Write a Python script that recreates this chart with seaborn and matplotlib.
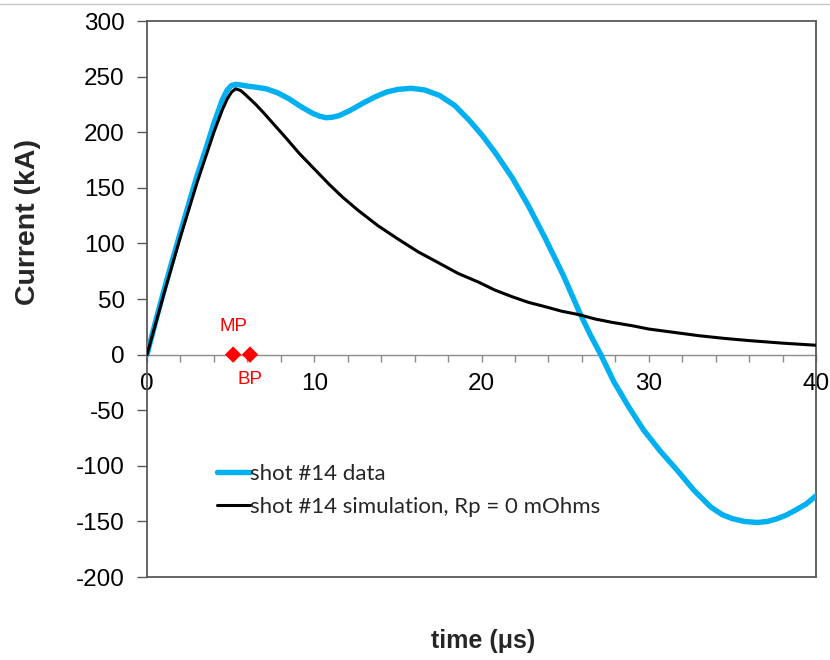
import matplotlib
matplotlib.use("Agg")
import matplotlib.pyplot as plt
import matplotlib.lines as mlines
from matplotlib.ticker import MultipleLocator, FuncFormatter
import seaborn as sns
import pandas as pd

# ---- data ----
data_t = [0, 0.5, 1, 1.5, 2, 2.56, 3, 3.56, 4, 4.5, 4.8, 5.05, 5.3, 5.6, 6.0,
          6.5, 7.13, 7.8, 8.5, 9.2, 9.9, 10.3, 10.7, 11.1, 11.5, 12.2, 12.9,
          13.6, 14.3, 15.0, 15.8, 16.6, 17.5, 18.4, 19.25, 20.05, 20.85, 21.84,
          22.8, 23.83, 24.9, 25.89, 26.5, 27.13, 27.9, 28.8, 29.7, 30.7, 31.7,
          32.7, 33.7, 34.4, 35.0, 35.7, 36.5, 37.1, 37.6, 38.2, 38.7, 39.4, 40.0]
data_i = [0, 29, 57, 84, 110, 139, 161, 187, 208, 229, 238, 242, 243, 242.5,
          241.5, 240.5, 239, 235.5, 230, 223, 217, 214.5, 213, 213.5, 215, 220,
          226, 231.5, 236, 238.5, 239.5, 238, 233, 224, 211, 197, 181, 159,
          134, 104, 71, 37, 18, 0, -24, -47, -68, -87, -104,
          -122, -137, -144, -147.5, -150, -151, -150, -148, -144.5, -140.5,
          -134.5, -127]

sim_t = [0, 1, 2, 3, 4, 4.5, 4.8, 5.05, 5.3, 5.6, 5.94, 6.5, 7.0, 7.5, 8.3,
         9.1, 10.0, 10.9, 11.7, 12.6, 13.8, 15.0, 16.2, 17.5, 18.6, 19.85,
         20.8, 21.84, 22.8, 23.83, 24.8, 25.8, 26.8, 27.8, 29.0, 30.0, 31.5,
         33.0, 34.5, 36.0, 38.0, 40.0]
sim_i = [0, 54, 106, 155, 200, 220, 230, 236, 239, 237.5, 233, 225, 217,
         208.5, 195, 181, 167, 153, 141.5, 130, 116, 104, 92.5, 82, 73, 65,
         58, 52, 47, 43, 39, 36, 32, 29, 26, 23, 20, 17, 14.6, 12.6, 10.3, 8.4]

marker_t = [5.15, 6.16]
marker_i = [0, 0]
marker_names = ["MP", "BP"]

data_label = "shot #14 data"
sim_label = "shot #14 simulation, Rp = 0 mOhms"
x_label = "time (\u03bcs)"
y_label = "Current (kA)"

# ---- styling ----
sns.set_theme(style="white")
plt.rcParams["font.family"] = ["Liberation Sans", "DejaVu Sans"]
plt.rcParams["axes.unicode_minus"] = False
plt.rcParams["lines.solid_joinstyle"] = "round"
plt.rcParams["lines.solid_capstyle"] = "round"

W, H = 830, 660
fig = plt.figure(figsize=(W / 100, H / 100), dpi=100)
ax = fig.add_axes([147 / W, 1 - 577 / H, (816 - 147) / W, (577 - 21) / H])

blue = "#00B0F0"
frame_col = "#595959"

df_data = pd.DataFrame({"t": data_t, "I": data_i})
df_sim = pd.DataFrame({"t": sim_t, "I": sim_i})
df_mk = pd.DataFrame({"t": marker_t, "I": marker_i, "name": marker_names})

sns.lineplot(data=df_data, x="t", y="I", ax=ax, color=blue, lw=3.9,
             sort=False, label=data_label, zorder=3)
sns.lineplot(data=df_sim, x="t", y="I", ax=ax, color="black", lw=2.2,
             sort=False, label=sim_label, zorder=4)
sns.scatterplot(data=df_mk, x="t", y="I", ax=ax, color="#FF0000", marker="D",
                s=70, edgecolor="none", zorder=5, legend=False)

ax.annotate(marker_names[0], (marker_t[0], marker_i[0]), xytext=(0, 20),
            textcoords="offset points", ha="center", va="center",
            color="#FF0000", fontsize=13.5)
ax.annotate(marker_names[1], (marker_t[1], marker_i[1]), xytext=(0, -18),
            textcoords="offset points", ha="center", va="center",
            color="#FF0000", fontsize=13.5)

ax.set_xlim(0, 40)
ax.set_ylim(-200, 300)

# axis at zero
ax.spines["bottom"].set_position(("data", 0))
ax.spines["bottom"].set_color("#8c8c8c")
ax.spines["bottom"].set_linewidth(1.0)
ax.spines["bottom"].set_zorder(1)
for s in ["left", "top", "right"]:
    ax.spines[s].set_color(frame_col)
    ax.spines[s].set_linewidth(1.3)
ax.axhline(-200, color=frame_col, lw=1.3, clip_on=False, zorder=6)

ax.xaxis.set_major_locator(MultipleLocator(2))
ax.xaxis.set_major_formatter(FuncFormatter(
    lambda v, p: f"{int(round(v))}" if round(v) % 10 == 0 else ""))
ax.yaxis.set_major_locator(MultipleLocator(50))
ax.tick_params(axis="x", direction="out", length=5, width=1, color="#8c8c8c",
               pad=8, labelsize=17.5, labelcolor="black", bottom=True)
ax.tick_params(axis="y", direction="out", length=7, width=1, color=frame_col,
               pad=9, labelsize=17.5, labelcolor="black", left=True)

ax.set_xlabel("")
ax.set_ylabel("")

leg = ax.legend(loc="upper left",
                bbox_to_anchor=((208 - 147) / (816 - 147), 1 - (455 - 21) / (577 - 21)),
                frameon=False, handlelength=1.5, handletextpad=0.0,
                labelspacing=0.6, borderaxespad=0,
                prop={"family": ["Lato", "DejaVu Sans"], "size": 16})

fig.text(28 / W, 1 - 222 / H, y_label, rotation=90, ha="center", va="center",
         fontsize=20.5, fontweight="bold")
fig.text(483 / W, 1 - 641 / H, x_label, ha="center", va="center",
         fontsize=18, fontweight="bold")

# thin border line at the top of the image
fig.add_artist(mlines.Line2D([0, 1], [1 - 3.5 / H, 1 - 3.5 / H],
                             transform=fig.transFigure, color="#c8c8c8", lw=1))

fig.savefig("out.png", dpi=100, facecolor="white")
